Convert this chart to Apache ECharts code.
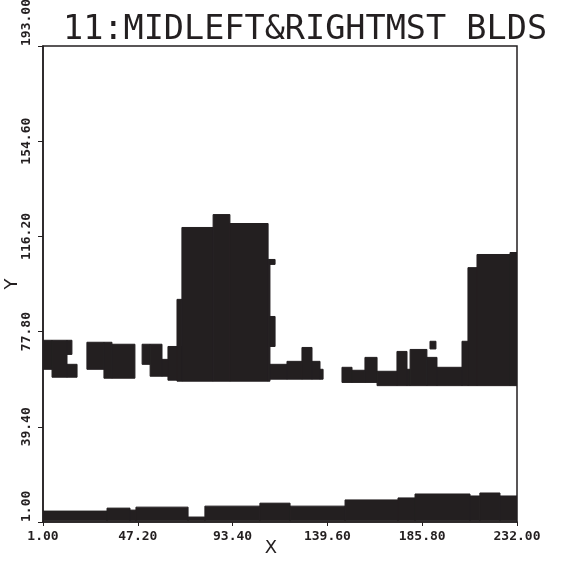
<!DOCTYPE html>
<html lang="en">
<head>
    <title>11:MIDLEFT&RIGHTMST BLDS</title>
    <meta charset="utf-8">
    <script src="https://cdn.jsdelivr.net/npm/echarts@6/dist/echarts.min.js"></script>
    <style>
        html, body { margin: 0; padding: 0; background: #fff; }
        #chart { width: 580px; height: 566px; }
    </style>
</head>
<body>
    <div id="chart"></div>
    <script type="text/javascript">
        // tick labels
        var xTicks = [1.00, 47.20, 93.40, 139.60, 185.80, 232.00];
        var yTicks = [1.00, 39.40, 77.80, 116.20, 154.60, 193.00];

        // filled cells: [xStart, xEnd, yLow, yHigh]
        // strip along the bottom
        var groundStrip = [
            [1.0, 32.2, 1.5, 5.4],
            [32.2, 43.4, 1.5, 6.6],
            [43.4, 46.3, 1.5, 5.8],
            [46.3, 71.7, 1.5, 7.0],
            [71.7, 79.9, 1.5, 3.0],
            [79.9, 106.7, 1.5, 7.4],
            [106.7, 121.4, 1.5, 8.6],
            [121.4, 148.2, 1.5, 7.4],
            [148.2, 174.0, 1.5, 9.9],
            [174.0, 182.3, 1.5, 10.7],
            [182.3, 209.1, 1.5, 12.3],
            [209.1, 213.9, 1.5, 11.5],
            [213.9, 223.7, 1.5, 12.7],
            [223.7, 232.0, 1.5, 11.5]
        ];
        // small buildings on the left
        var leftBlds = [
            [1.0, 5.4, 62.6, 74.3],
            [5.4, 12.7, 59.4, 74.3],
            [12.7, 15.1, 68.6, 74.3],
            [12.7, 17.6, 59.4, 64.6],
            [22.4, 30.7, 62.6, 73.5],
            [30.7, 34.6, 59.0, 73.5],
            [34.6, 45.8, 59.0, 72.7],
            [49.3, 53.2, 64.6, 72.7],
            [53.2, 59.0, 59.8, 72.7],
            [59.0, 61.9, 59.8, 66.6],
            [61.9, 68.7, 58.2, 71.8]
        ];
        // the tall middle-left building
        var midBld = [
            [66.3, 68.7, 57.8, 90.8],
            [68.7, 83.9, 57.8, 119.8],
            [83.9, 92.1, 57.8, 125.0],
            [92.1, 110.7, 57.8, 121.4],
            [110.7, 111.6, 57.8, 106.9],
            [111.6, 114.1, 104.9, 106.9],
            [111.6, 114.1, 71.8, 83.9],
            [111.6, 119.9, 58.6, 64.6],
            [119.9, 127.2, 58.6, 65.8],
            [127.2, 132.1, 58.6, 71.4],
            [132.1, 136.0, 58.6, 65.8],
            [136.0, 137.5, 58.6, 62.6]
        ];
        // right group, ending with the rightmost tall building
        var rightBlds = [
            [146.7, 151.6, 57.3, 63.4],
            [151.6, 157.9, 57.3, 62.2],
            [157.9, 163.8, 57.3, 67.4],
            [163.8, 173.5, 56.0, 61.8],
            [173.5, 178.4, 56.0, 69.8],
            [178.4, 179.9, 56.0, 62.6],
            [179.9, 188.1, 56.0, 70.6],
            [188.1, 193.0, 56.0, 67.4],
            [189.6, 192.5, 70.8, 73.9],
            [193.0, 205.2, 56.0, 63.4],
            [205.2, 208.1, 56.0, 73.9],
            [208.1, 212.5, 56.0, 103.6],
            [212.5, 228.6, 56.0, 108.9],
            [228.6, 232.0, 56.0, 109.7]
        ];

        var ink = "#231f20";
        var monoFont = "DejaVu Sans Mono";

        function renderCell(params, api) {
            var p0 = api.coord([api.value(0), api.value(3)]);
            var p1 = api.coord([api.value(1), api.value(2)]);
            return {
                type: "rect",
                shape: { x: p0[0], y: p0[1], width: p1[0] - p0[0], height: p1[1] - p0[1] },
                style: { fill: ink, stroke: ink, lineWidth: 1 }
            };
        }

        function cellSeries(name, data) {
            return {
                type: "custom",
                name: name,
                renderItem: renderCell,
                encode: { x: [0, 1], y: [2, 3] },
                data: data,
                clip: true,
                silent: true
            };
        }

        var fmt = function (v) { return Number(v).toFixed(2); };

        var option = {
            backgroundColor: "#fff",
            animation: false,
            title: {
                text: "11:MIDLEFT&RIGHTMST BLDS",
                left: 58,
                top: 8,
                textStyle: { fontFamily: monoFont, fontSize: 33.5, fontWeight: "normal", color: ink }
            },
            grid: {
                show: true,
                left: 43,
                right: 63,
                top: 46,
                bottom: 44,
                outerBoundsMode: "none",
                containLabel: false,
                borderColor: ink,
                borderWidth: 1.5,
                backgroundColor: "transparent"
            },
            xAxis: {
                type: "value",
                min: 1,
                max: 232,
                name: "X",
                nameLocation: "middle",
                nameGap: 17,
                nameMoveOverlap: false,
                nameTextStyle: { fontFamily: "DejaVu Sans", fontSize: 18, color: ink, padding: [0, 18, 0, 0] },
                axisLine: { show: true, lineStyle: { color: ink, width: 1.5 } },
                axisTick: { show: true, length: 4, customValues: xTicks, lineStyle: { color: ink } },
                splitLine: { show: false },
                axisLabel: {
                    customValues: xTicks,
                    formatter: fmt,
                    margin: 8,
                    fontFamily: monoFont,
                    fontWeight: "bold",
                    fontSize: 13,
                    color: ink
                }
            },
            yAxis: {
                type: "value",
                min: 1,
                max: 193,
                name: "Y",
                nameLocation: "middle",
                nameRotate: 90,
                nameGap: 22,
                nameMoveOverlap: false,
                nameTextStyle: { fontFamily: "DejaVu Sans", fontSize: 18, color: ink },
                axisLine: { show: true, lineStyle: { color: ink, width: 1.5 } },
                axisTick: { show: true, length: 5, customValues: yTicks, lineStyle: { color: ink } },
                splitLine: { show: false },
                axisLabel: {
                    customValues: yTicks,
                    formatter: fmt,
                    rotate: 90,
                    margin: 10,
                    alignMinLabel: "left",
                    alignMaxLabel: "left",
                    fontFamily: monoFont,
                    fontWeight: "bold",
                    fontSize: 13,
                    color: ink
                }
            },
            series: [
                cellSeries("ground", groundStrip),
                cellSeries("left", leftBlds),
                cellSeries("mid", midBld),
                cellSeries("right", rightBlds)
            ]
        };

        var mychart = echarts.init(document.getElementById("chart"));
        mychart.setOption(option);
    </script>
</body>
</html>
